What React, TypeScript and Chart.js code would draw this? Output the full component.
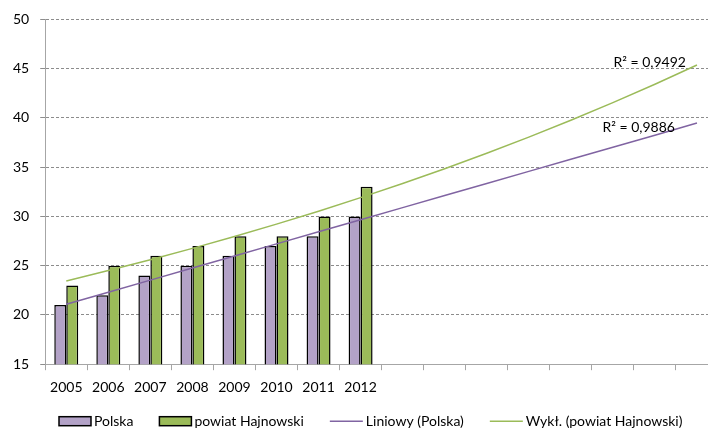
import React, { useEffect, useRef } from "react";
import { Chart, registerables } from "chart.js";

Chart.register(...registerables);

const years = ["2005", "2006", "2007", "2008", "2009", "2010", "2011", "2012"];
const forecastSlots = ["", "", "", "", "", "", "", ""];
const polska = [21, 22, 24, 25, 26, 27, 28, 30];
const hajnowski = [23, 25, 26, 27, 28, 28, 30, 33];
const r2Polska = "R² = 0,9886";
const r2Hajnowski = "R² = 0,9492";
const yTicks = { min: 15, max: 50, step: 5 };

const labels = [...years, ...forecastSlots];

function linearTrend(values: number[], n: number): number[] {
  const xs = values.map((_, i) => i + 1);
  const mx = xs.reduce((a, b) => a + b, 0) / xs.length;
  const my = values.reduce((a, b) => a + b, 0) / values.length;
  let sxy = 0, sxx = 0;
  xs.forEach((x, i) => { sxy += (x - mx) * (values[i] - my); sxx += (x - mx) * (x - mx); });
  const b = sxy / sxx;
  const a = my - b * mx;
  return Array.from({ length: n }, (_, i) => a + b * (i + 1));
}

function expTrend(values: number[], n: number): number[] {
  const logs = values.map((v) => Math.log(v));
  const lin = linearTrend(logs, n);
  return lin.map((v) => Math.exp(v));
}

const FONT = "Lato";

export default function App() {
  const ref = useRef<HTMLCanvasElement>(null);

  useEffect(() => {
    const canvas = ref.current!;
    const n = labels.length;
    const trendP = linearTrend(polska, n);
    const trendH = expTrend(hajnowski, n);

    const r2Plugin = {
      id: "r2labels",
      afterDatasetsDraw(chart: any) {
        const ctx = chart.ctx;
        const xs = chart.scales.x;
        const ys = chart.scales.y;
        const endX = xs.getPixelForValue(n - 1);
        ctx.save();
        ctx.font = `14px ${FONT}`;
        ctx.fillStyle = "#000";
        ctx.textAlign = "right";
        ctx.textBaseline = "middle";
        ctx.fillText(r2Hajnowski, endX - 11, ys.getPixelForValue(trendH[n - 1]) - 2);
        ctx.fillText(r2Polska, endX - 22, ys.getPixelForValue(trendP[n - 1]) + 4);
        ctx.restore();
      },
    };

    const legendPlugin = {
      id: "bottomLegend",
      afterDraw(chart: any) {
        const ctx = chart.ctx;
        const y = chart.chartArea.bottom + 57;
        let x = 59;
        ctx.save();
        ctx.font = `14px ${FONT}`;
        ctx.textBaseline = "middle";
        ctx.textAlign = "left";
        chart.data.datasets.forEach((ds: any) => {
          const isLine = ds.type === "line";
          const w = isLine ? 33 : 32;
          if (isLine) {
            ctx.strokeStyle = ds.borderColor;
            ctx.lineWidth = 1.5;
            ctx.beginPath();
            ctx.moveTo(x, y);
            ctx.lineTo(x + w, y);
            ctx.stroke();
          } else {
            ctx.fillStyle = ds.backgroundColor;
            ctx.fillRect(x, y - 4.5, w, 9);
            ctx.strokeStyle = "#000";
            ctx.lineWidth = 1.5;
            ctx.strokeRect(x, y - 4.5, w, 9);
          }
          x += w + 3;
          ctx.fillStyle = "#000";
          ctx.fillText(ds.label, x, y);
          x += ctx.measureText(ds.label).width + 26;
        });
        ctx.restore();
      },
    };

    const barCommon = {
      borderColor: "#000000",
      borderWidth: 1.5,
      borderSkipped: false,
      categoryPercentage: 0.57,
      barPercentage: 1.0,
      order: 2,
    };

    const chart = new Chart(canvas, {
      type: "bar",
      data: {
        labels,
        datasets: [
          { type: "bar", label: "Polska", data: polska, backgroundColor: "#B3A2C7", ...barCommon } as any,
          { type: "bar", label: "powiat Hajnowski", data: hajnowski, backgroundColor: "#9BBB59", ...barCommon } as any,
          {
            type: "line",
            label: "Liniowy (Polska)",
            data: trendP,
            borderColor: "#8064A2",
            backgroundColor: "#8064A2",
            borderWidth: 1.5,
            pointRadius: 0,
            tension: 0,
            order: 0,
          } as any,
          {
            type: "line",
            label: "Wykł. (powiat Hajnowski)",
            data: trendH,
            borderColor: "#9BBB59",
            backgroundColor: "#9BBB59",
            borderWidth: 1.5,
            pointRadius: 0,
            tension: 0,
            order: 0,
          } as any,
        ],
      },
      options: {
        responsive: false,
        animation: false,
        layout: { padding: { top: 11, left: 2, right: 2, bottom: 23 } },
        plugins: {
          tooltip: { enabled: false },
          legend: { display: false },
        },
        scales: {
          x: {
            offset: true,
            grid: {
              offset: true,
              drawOnChartArea: false,
              drawTicks: true,
              tickLength: 6,
              color: "#a6a6a6",
            },
            border: { display: true, color: "#a6a6a6", width: 1 },
            ticks: {
              autoSkip: false,
              maxRotation: 0,
              padding: 9,
              color: "#000",
              font: { family: FONT, size: 14 },
            },
          },
          y: {
            min: yTicks.min,
            max: yTicks.max,
            grid: { color: "#8c8c8c", tickLength: 5 },
            border: { display: true, color: "#a6a6a6", width: 1, dash: [3, 2] },
            ticks: {
              stepSize: yTicks.step,
              padding: 11,
              color: "#000",
              font: { family: FONT, size: 14 },
            },
          },
        },
      },
      plugins: [r2Plugin, legendPlugin],
    });
    return () => chart.destroy();
  }, []);

  return (
    <div
      style={{
        position: "fixed",
        left: 0,
        top: 0,
        width: 708,
        height: 428,
        overflow: "hidden",
        background: "#fff",
      }}
    >
      <canvas ref={ref} width={720} height={428} style={{ width: 720, height: 428, display: "block" }} />
    </div>
  );
}
